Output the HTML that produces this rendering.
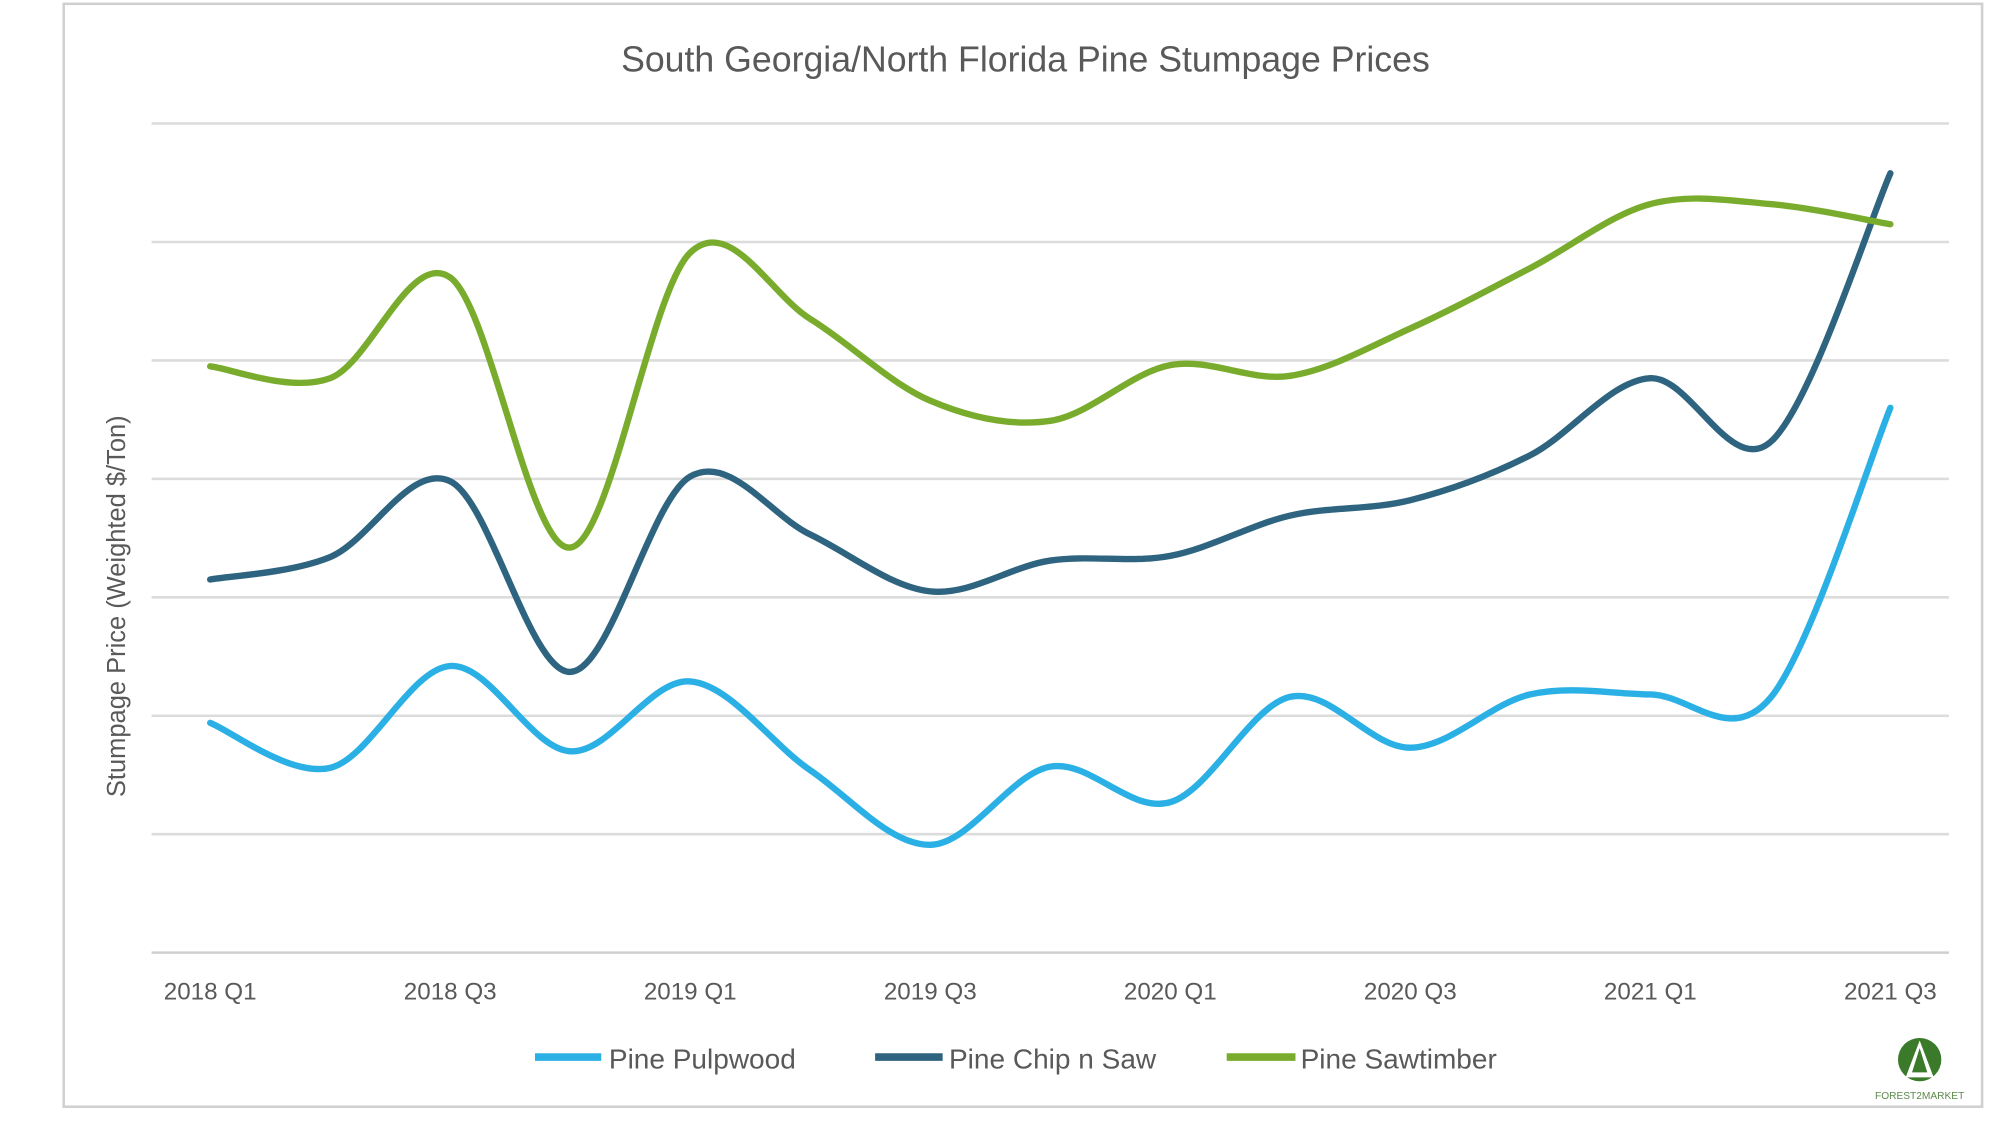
<!DOCTYPE html>
<html><head><meta charset="utf-8"><style>
body{margin:0;background:#fff;}
svg{display:block;font-family:"Liberation Sans",sans-serif;}
</style></head><body>
<svg id="chart" width="1991" height="1122" viewBox="0 0 1563 881" preserveAspectRatio="none" xmlns="http://www.w3.org/2000/svg">
<rect x="50" y="3" width="1506" height="866" fill="#fff" stroke="#d0d0d0" stroke-width="2"/>
<text x="805" y="56" text-anchor="middle" font-size="28" fill="#595959">South Georgia/North Florida Pine Stumpage Prices</text>
<text transform="translate(98,476) rotate(-90)" text-anchor="middle" font-size="20" fill="#595959">Stumpage Price (Weighted $/Ton)</text>
<g id="grid"></g><g id="xticks"></g><g id="series"></g>
<g font-size="22" fill="#595959">
<line x1="420" y1="830" x2="472" y2="830" stroke="#2BB0E6" stroke-width="6"/><text x="478" y="839">Pine Pulpwood</text>
<line x1="687" y1="830" x2="740" y2="830" stroke="#2E6480" stroke-width="6"/><text x="745" y="839">Pine Chip n Saw</text>
<line x1="963" y1="830" x2="1017" y2="830" stroke="#79AC2C" stroke-width="6"/><text x="1021" y="839">Pine Sawtimber</text>
</g>
<g>
<circle cx="1507" cy="832" r="17" fill="#3a7a2a"/>
<path d="M1507 817 L1496 846 L1518 846 Z" fill="#fff"/>
<path d="M1507 823 L1501 842 L1513 842 Z" fill="#3a7a2a"/>
<text x="1507" y="863" text-anchor="middle" font-size="8" fill="#5a8a4a">FOREST2MARKET</text>
</g>
</svg>
<script>
const categories=["2018 Q1","2018 Q2","2018 Q3","2018 Q4","2019 Q1","2019 Q2","2019 Q3","2019 Q4","2020 Q1","2020 Q2","2020 Q3","2020 Q4","2021 Q1","2021 Q2","2021 Q3"];
const tickLabels=["2018 Q1","2018 Q3","2019 Q1","2019 Q3","2020 Q1","2020 Q3","2021 Q1","2021 Q3"];
const pulpwood=[1.94,1.56,2.42,1.70,2.29,1.54,0.91,1.57,1.27,2.16,1.73,2.18,2.18,2.15,4.60];
const chipNSaw=[3.15,3.34,3.98,2.37,4.02,3.53,3.05,3.31,3.35,3.69,3.82,4.20,4.85,4.31,6.58];
const sawtimber=[4.95,4.85,5.70,3.42,5.91,5.35,4.66,4.49,4.96,4.87,5.27,5.78,6.32,6.32,6.15];
const gridValues=[0,1,2,3,4,5,6,7];
const NS="http://www.w3.org/2000/svg";
const xScale=i=>165+i*(1484-165)/(categories.length-1);
const yScale=v=>748-v*93;
const grid=document.getElementById('grid');
gridValues.forEach(g=>{
  const l=document.createElementNS(NS,'line');
  
  
  l.setAttribute('x1',119);l.setAttribute('x2',1530);
  l.setAttribute('y1',yScale(g));l.setAttribute('y2',yScale(g));
  l.setAttribute('stroke',g===0?'#cfcfcf':'#dcdcdc');l.setAttribute('stroke-width',2);
  grid.appendChild(l);
});
const xt=document.getElementById('xticks');
categories.forEach((c,i)=>{
  if(!tickLabels.includes(c))return;
  const t=document.createElementNS(NS,'text');
  
  
  t.setAttribute('x',xScale(i));t.setAttribute('y',785);
  t.setAttribute('text-anchor','middle');t.setAttribute('font-size','19');t.setAttribute('fill','#595959');
  t.textContent=c;xt.appendChild(t);
});
function pathFor(vals){
  const p=vals.map((v,i)=>[xScale(i),yScale(v)]);
  let d='M'+p[0][0]+' '+p[0][1];
  for(let i=0;i<p.length-1;i++){
    const p0=p[Math.max(0,i-1)],p1=p[i],p2=p[i+1],p3=p[Math.min(p.length-1,i+2)];
    const c1=[p1[0]+(p2[0]-p0[0])/6,p1[1]+(p2[1]-p0[1])/6];
    const c2=[p2[0]-(p3[0]-p1[0])/6,p2[1]-(p3[1]-p1[1])/6];
    d+=` C${c1[0]} ${c1[1]} ${c2[0]} ${c2[1]} ${p2[0]} ${p2[1]}`;
  }
  return d;
}
const sg=document.getElementById('series');
[[pulpwood,'#2BB0E6','line-pine-pulpwood'],[chipNSaw,'#2E6480','line-pine-chip-n-saw'],[sawtimber,'#79AC2C','line-pine-sawtimber']].forEach(([v,c,n])=>{
  const p=document.createElementNS(NS,'path');
  
  
  p.setAttribute('d',pathFor(v));p.setAttribute('fill','none');
  p.setAttribute('stroke',c);p.setAttribute('stroke-width',5);p.setAttribute('stroke-linecap','round');
  sg.appendChild(p);
});
</script>
</body></html>
